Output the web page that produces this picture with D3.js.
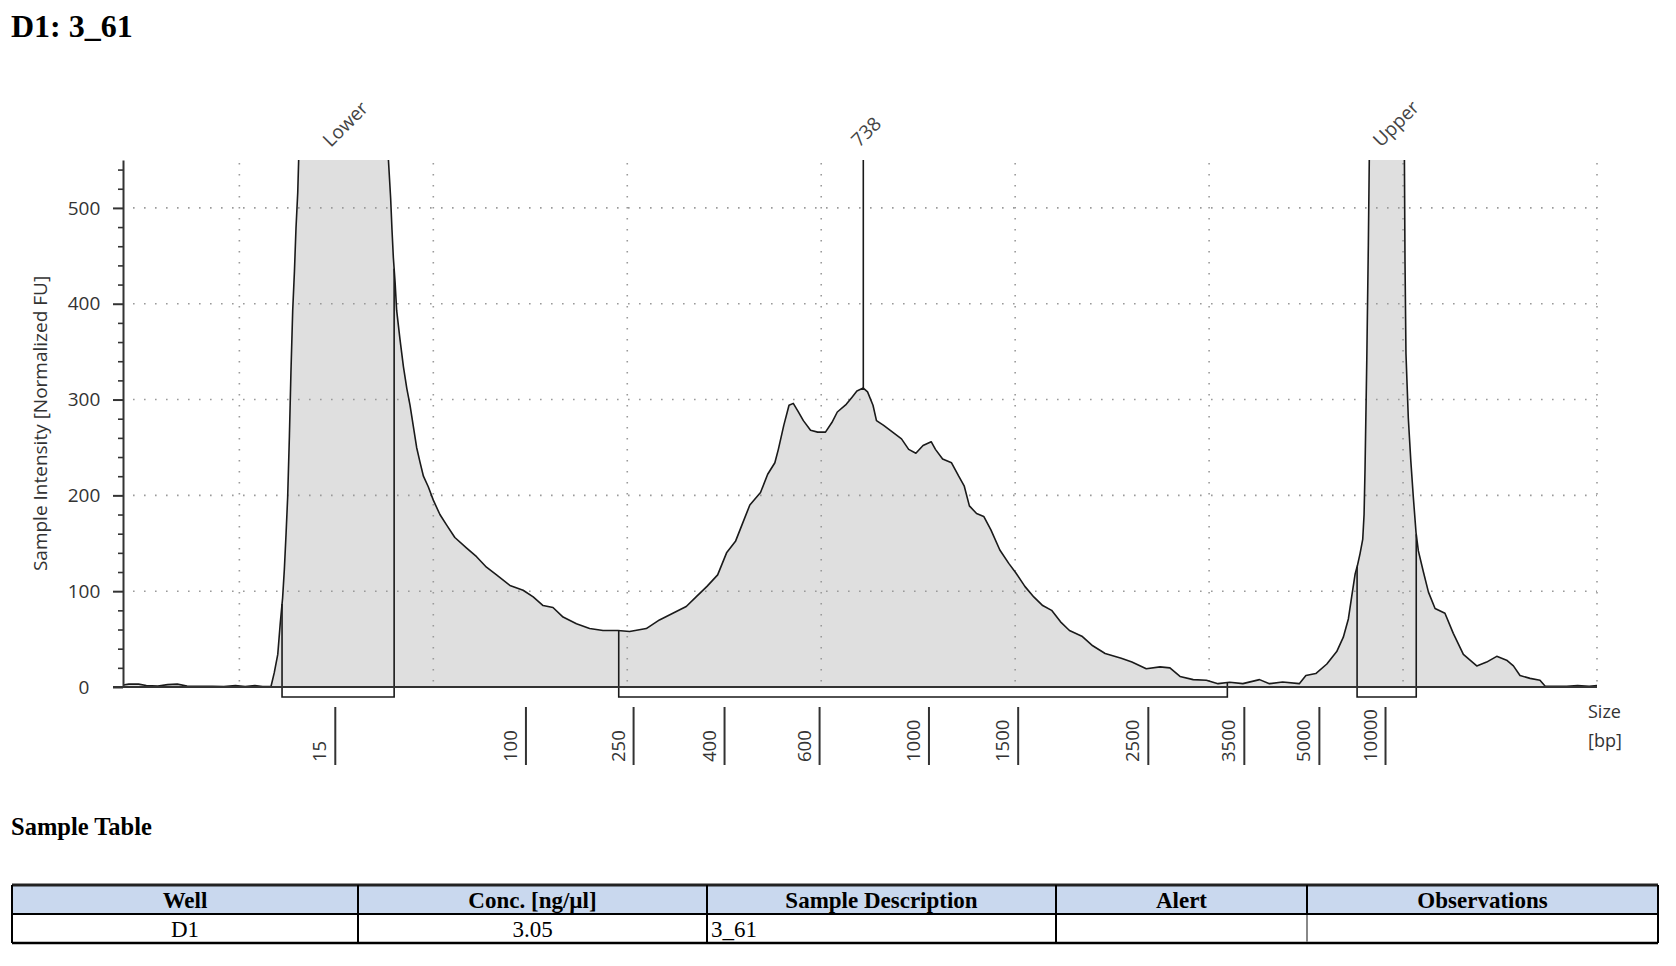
<!DOCTYPE html>
<html><head><meta charset="utf-8">
<script src="https://cdn.jsdelivr.net/npm/d3@7"></script>
<style>
body{margin:0;background:#fff;}
svg{display:block;}
</style></head><body>
<svg id="chart" width="1676" height="966"></svg>
<script>
// ---------- data ----------
const migration = [4.0,4.3,4.8,5.2,5.8,6.3,6.8,7.3,8.0,8.6,9.2,9.8,10.3,10.8,11.2,11.63,
 11.80,11.98,12.11,12.23,12.32,12.41,12.49,12.58,12.66,12.75,12.84,12.92,13.01,13.06,
 13.2,13.6,14.3,15.0,15.8,16.6,17.3,17.68,
 17.80,17.87,17.94,18.03,18.11,18.28,18.46,18.63,18.80,18.97,19.14,19.31,19.49,19.74,20.00,20.34,20.69,21.11,21.72,22.23,22.74,23.26,23.95,24.63,25.15,25.66,26.17,26.69,27.38,28.06,28.75,29.52,30.12,30.98,31.66,32.35,33.04,33.55,
 34.11,34.66,35.12,35.58,35.95,36.32,36.87,37.24,37.61,37.79,38.07,38.34,38.56,38.80,39.08,39.45,39.82,40.22,40.55,40.83,41.29,41.57,41.84,42.17,42.39,42.67,42.85,43.22,43.68,44.14,44.51,44.88,45.25,45.67,45.89,46.26,46.72,47.09,47.37,47.64,48.01,48.38,48.75,49.21,49.67,50.04,50.50,50.96,51.42,51.88,52.34,52.80,53.44,54.00,54.64,55.47,56.02,56.76,
 57.47,57.98,58.50,59.18,59.86,60.46,61.06,61.74,62.60,63.11,63.79,64.65,
 64.99,65.50,66.07,66.58,66.92,67.18,67.35,67.53,67.65,67.78,67.92,67.99,68.04,68.13,68.21,68.26,
 68.5,69.1,69.7,70.07,
 70.10,70.15,70.27,70.40,70.53,70.67,70.79,71.05,71.31,71.65,72.16,72.59,73.11,73.80,74.31,74.83,75.34,75.69,76.03,76.55,77.06,77.32,78.44,79.0,79.6,80.0];
const intensity = [2,3,3,1.5,1,2.5,3,1,0.8,0.8,0.5,1.5,0.5,1.5,0.5,0.5,
 15,34,67,93,123,161,198,262,329,393,434,479,516,552,
 700,820,880,900,860,760,640,552,
 510,477,448,422,393,363,334,312,294,272,250,235,220,209,195,180,169,156,145,136,125,117,106,101,94,85,83,73,66,61,59,59,58,61,70,77,84,94,
 105,117,140,152,171,190,203,222,234,248,273,294,296,288,278,268,266,266,276,287,295,302,309,312,308,294,278,273,266,259,248,244,252,256,248,238,234,220,210,189,181,178,164,143,129,119,105,94,85,80,68,59,53,43,35,30,26,19,
 21,20,11,7.7,7,3.5,4.9,3.5,7.7,3.5,5.2,3.5,
 12,14,24,37,52,71,94,118,127,139,154,180,228,341,461,552,
 720,850,740,552,
 446,348,281,236,198,161,142,120,99,82,77,56,34,22,26,32,28,22,12,9,7,1,0.7,1.5,0.7,1.5];

const ladderSizes = [15,100,250,400,600,1000,1500,2500,3500,5000,10000];
const ladderMigration = [14.92,24.75,30.30,34.99,39.89,45.53,50.13,56.84,61.79,65.66,69.07];

const peakLabels = ["Lower","738","Upper"];
const peakMigration = [14.92,42.17,69.07];
const markedPeak = [42.17];

const regionStart = [12.20,29.56,67.63];
const regionEnd = [17.98,60.94,70.68];

const yTicks = [0,100,200,300,400,500];
const gridMigration = [10,20,30,40,50,60,70,80];

const titleText = "D1: 3_61";
const tableTitle = "Sample Table";
const tableColumns = ["Well","Conc. [ng/\u00b5l]","Sample Description","Alert","Observations"];
const tableRow = ["D1","3.05","3_61","",""];

if (migration.length !== intensity.length) throw new Error("length mismatch " + migration.length + " " + intensity.length);

// ---------- layout ----------
const sans = "'Open Sans', 'DejaVu Sans', sans-serif";
const serif = "'Liberation Serif', 'Times New Roman', serif";
const svg = d3.select("#chart");

const x = d3.scaleLinear().domain([4, 80]).range([123, 1597]);
const y = d3.scaleLinear().domain([0, 550]).range([687, 160]);
const sizeScale = d3.scaleLinear().domain(ladderSizes).range(ladderMigration.map(m => x(m)));

const curve = migration.map((t, i) => ({t, v: intensity[i]}));
const bis = d3.bisector(d => d.t).left;
function valueAt(t) {
  const i = bis(curve, t);
  if (i <= 0) return curve[0].v;
  if (i >= curve.length) return curve[curve.length - 1].v;
  const a = curve[i - 1], b = curve[i];
  return a.v + (b.v - a.v) * (t - a.t) / (b.t - a.t);
}

svg.append("defs").append("clipPath").attr("id", "plotClip").append("rect")
  .attr("x", x(4)).attr("y", y(550)).attr("width", x(80) - x(4)).attr("height", y(0) - y(550));

// title
svg.append("text").attr("x", 11).attr("y", 37).attr("font-family", serif).attr("font-weight", "bold")
  .attr("font-size", 32).attr("fill", "#000").text(titleText);

// filled trace
svg.append("path").datum(curve).attr("clip-path", "url(#plotClip)")
  .attr("fill", "#dfdfdf")
  .attr("d", d3.area().x(d => x(d.t)).y0(y(0)).y1(d => y(d.v)));

// grid
const grid = svg.append("g").attr("stroke", "#9a9a9a").attr("stroke-width", 1.6).attr("stroke-dasharray", "1.6 9.4");
grid.selectAll("line.gv").data(gridMigration).join("line").attr("class", "gv")
  .attr("x1", d => x(d)).attr("x2", d => x(d)).attr("y1", y(550) + 3).attr("y2", y(0) - 4);
grid.selectAll("line.gh").data(yTicks.filter(d => d > 0)).join("line").attr("class", "gh")
  .attr("x1", x(4) + 10).attr("x2", x(80)).attr("y1", d => y(d)).attr("y2", d => y(d));

// trace line
svg.append("path").datum(curve).attr("clip-path", "url(#plotClip)")
  .attr("fill", "none").attr("stroke", "#1a1a1a").attr("stroke-width", 1.6).attr("stroke-linejoin", "round")
  .attr("d", d3.line().x(d => x(d.t)).y(d => y(d.v)));

// region boxes
const boxBottom = y(0) + 10;
svg.append("g").selectAll("path").data(regionStart.map((s, i) => ({s, e: regionEnd[i]}))).join("path")
  .attr("fill", "none").attr("stroke", "#1a1a1a").attr("stroke-width", 1.6)
  .attr("d", d => `M${x(d.s)},${y(valueAt(d.s))}V${boxBottom}H${x(d.e)}V${y(valueAt(d.e))}`);

// marked peak line
svg.append("g").selectAll("line").data(markedPeak).join("line")
  .attr("x1", d => x(d)).attr("x2", d => x(d)).attr("y1", y(550)).attr("y2", d => y(valueAt(d)))
  .attr("stroke", "#1a1a1a").attr("stroke-width", 1.6);

// peak labels
svg.append("g").selectAll("text").data(peakLabels).join("text")
  .attr("transform", (d, i) => `translate(${x(peakMigration[i]) - 4},148) rotate(-45)`)
  .attr("font-family", sans).attr("font-size", 19).attr("fill", "#444").text(d => d);

// y axis
const yAxisG = svg.append("g").attr("transform", `translate(${x(4)},0)`)
  .call(d3.axisLeft(y).tickValues(yTicks).tickSize(10).tickSizeOuter(0));
yAxisG.select(".domain").attr("stroke", "#333").attr("stroke-width", 2);
yAxisG.selectAll(".tick line").attr("stroke", "#333").attr("stroke-width", 2);
yAxisG.selectAll(".tick text").attr("x", -39).attr("text-anchor", "middle")
  .attr("font-family", sans).attr("font-size", 19).attr("fill", "#333");
const minorTicks = d3.range(20, 560, 20).filter(d => d % 100 !== 0);
const yMinorG = svg.append("g").attr("transform", `translate(${x(4)},0)`)
  .call(d3.axisLeft(y).tickValues(minorTicks).tickSize(5).tickSizeOuter(0).tickFormat(""));
yMinorG.select(".domain").remove();
yMinorG.selectAll(".tick line").attr("stroke", "#333").attr("stroke-width", 1.6);

// y title
svg.append("text").attr("transform", `translate(47,${(y(0) + y(550)) / 2}) rotate(-90)`)
  .attr("text-anchor", "middle").attr("font-family", sans).attr("font-size", 19).attr("fill", "#333")
  .text("Sample Intensity [Normalized FU]");

// x baseline
svg.append("line").attr("x1", x(4) - 10).attr("x2", x(80)).attr("y1", y(0)).attr("y2", y(0))
  .attr("stroke", "#333").attr("stroke-width", 2);

// ladder (size) axis
const lg = svg.append("g").attr("transform", `translate(0,${y(0) + 20})`)
  .call(d3.axisBottom(sizeScale).tickValues(ladderSizes).tickSize(58).tickSizeOuter(0).tickFormat(d3.format("d")));
lg.select(".domain").remove();
lg.selectAll(".tick line").attr("stroke", "#333").attr("stroke-width", 2);
lg.selectAll(".tick text").attr("x", 0).attr("y", 0).attr("dy", null)
  .attr("transform", "translate(-9,55) rotate(-90)").attr("text-anchor", "start")
  .attr("font-family", sans).attr("font-size", 18.5).attr("fill", "#333");

// size label
const sizeLbl = svg.append("text").attr("font-family", sans).attr("font-size", 18).attr("fill", "#333");
sizeLbl.append("tspan").attr("x", x(80) - 9).attr("y", 718).text("Size");
sizeLbl.append("tspan").attr("x", x(80) - 9).attr("y", 747).text("[bp]");

// ---------- table ----------
svg.append("text").attr("x", 11).attr("y", 835).attr("font-family", serif).attr("font-weight", "bold")
  .attr("font-size", 24.5).attr("fill", "#000").text(tableTitle);

const colEdges = [12, 358, 707, 1056, 1307, 1658];
const tTop = 885, tMid = 914, tBot = 943;
const tbl = svg.append("g");
tbl.selectAll("rect.hd").data(tableColumns).join("rect").attr("class", "hd")
  .attr("x", (d, i) => colEdges[i]).attr("y", tTop).attr("width", (d, i) => colEdges[i + 1] - colEdges[i])
  .attr("height", tMid - tTop).attr("fill", "#c9d8ee");
tbl.selectAll("text.hd").data(tableColumns).join("text").attr("class", "hd")
  .attr("x", (d, i) => (colEdges[i] + colEdges[i + 1]) / 2).attr("y", 907.5)
  .attr("text-anchor", "middle").attr("font-family", serif).attr("font-weight", "bold")
  .attr("font-size", 23).attr("fill", "#000").text(d => d);
tbl.selectAll("text.rw").data(tableRow).join("text").attr("class", "rw")
  .attr("x", (d, i) => i === 2 ? colEdges[i] + 4 : (colEdges[i] + colEdges[i + 1]) / 2).attr("y", 936.5)
  .attr("text-anchor", (d, i) => i === 2 ? "start" : "middle").attr("font-family", serif)
  .attr("font-size", 23).attr("fill", "#000").text(d => d);
// borders
tbl.append("line").attr("x1", colEdges[0]).attr("x2", colEdges[5]).attr("y1", tTop).attr("y2", tTop).attr("stroke", "#222").attr("stroke-width", 3);
tbl.append("line").attr("x1", colEdges[0]).attr("x2", colEdges[5]).attr("y1", tMid).attr("y2", tMid).attr("stroke", "#000").attr("stroke-width", 2);
tbl.append("line").attr("x1", colEdges[0]).attr("x2", colEdges[5]).attr("y1", tBot).attr("y2", tBot).attr("stroke", "#000").attr("stroke-width", 2.5);
tbl.selectAll("line.cv").data(colEdges).join("line").attr("class", "cv")
  .attr("x1", d => d).attr("x2", d => d).attr("y1", tTop).attr("y2", tBot)
  .attr("stroke", "#000").attr("stroke-width", 2);
tbl.append("line").attr("x1", colEdges[4]).attr("x2", colEdges[4]).attr("y1", tMid + 1).attr("y2", tBot - 1)
  .attr("stroke", "#888").attr("stroke-width", 2);
</script>
</body></html>
